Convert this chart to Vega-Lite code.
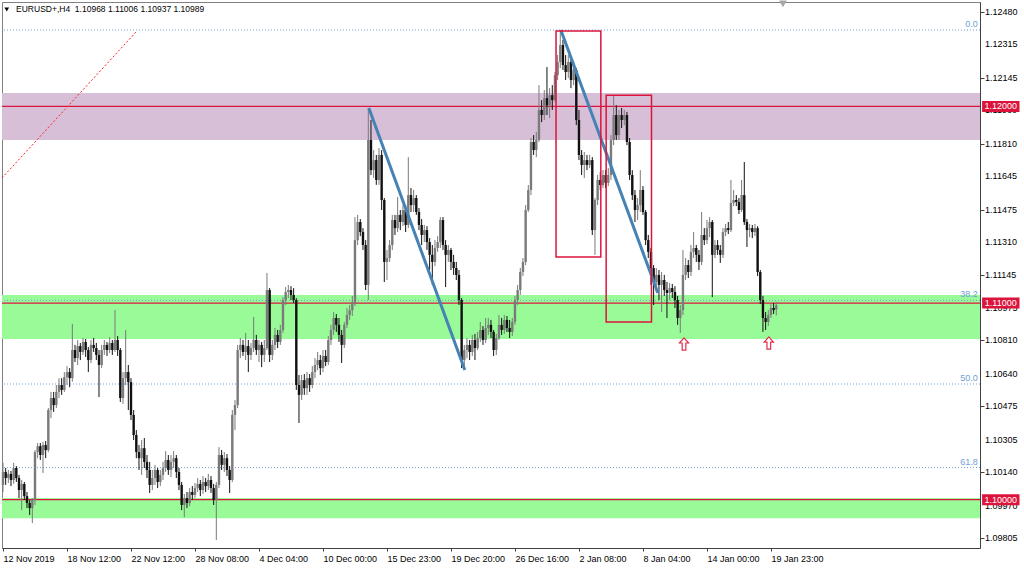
{
"$schema":"https://vega.github.io/schema/vega-lite/v6.json",
"width":978,"height":546,
"autosize":{"type":"none"},
"padding":{"left":2,"top":2,"right":44,"bottom":22},
"background":"#ffffff",
"config":{"view":{"stroke":"#808080","strokeWidth":1},"font":"Liberation Sans","axis":{"grid":false,"labelFlush":false}},
"datasets":{
"candles":[
{"i":0,"o":1.10075,"h":1.10187,"l":1.10039,"c":1.10141},
{"i":1,"o":1.10141,"h":1.10161,"l":1.10075,"c":1.10110},
{"i":2,"o":1.10110,"h":1.10151,"l":1.10085,"c":1.10131},
{"i":3,"o":1.10131,"h":1.10146,"l":1.10069,"c":1.10100},
{"i":4,"o":1.10100,"h":1.10187,"l":1.10080,"c":1.10161},
{"i":5,"o":1.10161,"h":1.10171,"l":1.10090,"c":1.10110},
{"i":6,"o":1.10110,"h":1.10126,"l":1.10008,"c":1.10049},
{"i":7,"o":1.10049,"h":1.10100,"l":1.09947,"c":1.10080},
{"i":8,"o":1.10080,"h":1.10090,"l":1.09998,"c":1.10018},
{"i":9,"o":1.10018,"h":1.10039,"l":1.09957,"c":1.09983},
{"i":10,"o":1.09983,"h":1.09998,"l":1.09922,"c":1.09957},
{"i":11,"o":1.09957,"h":1.10008,"l":1.09881,"c":1.09998},
{"i":12,"o":1.09998,"h":1.10252,"l":1.09973,"c":1.10242},
{"i":13,"o":1.10242,"h":1.10288,"l":1.10211,"c":1.10272},
{"i":14,"o":1.10272,"h":1.10288,"l":1.10202,"c":1.10227},
{"i":15,"o":1.10227,"h":1.10293,"l":1.10136,"c":1.10278},
{"i":16,"o":1.10278,"h":1.10298,"l":1.10211,"c":1.10252},
{"i":17,"o":1.10252,"h":1.10466,"l":1.10242,"c":1.10456},
{"i":18,"o":1.10456,"h":1.10548,"l":1.10415,"c":1.10517},
{"i":19,"o":1.10517,"h":1.10548,"l":1.10446,"c":1.10481},
{"i":20,"o":1.10481,"h":1.10583,"l":1.10466,"c":1.10548},
{"i":21,"o":1.10548,"h":1.10618,"l":1.10517,"c":1.10583},
{"i":22,"o":1.10583,"h":1.10618,"l":1.10533,"c":1.10558},
{"i":23,"o":1.10558,"h":1.10649,"l":1.10548,"c":1.10623},
{"i":24,"o":1.10623,"h":1.10679,"l":1.10583,"c":1.10649},
{"i":25,"o":1.10649,"h":1.10669,"l":1.10572,"c":1.10618},
{"i":26,"o":1.10618,"h":1.10894,"l":1.10600,"c":1.10761},
{"i":27,"o":1.10761,"h":1.10787,"l":1.10700,"c":1.10720},
{"i":28,"o":1.10720,"h":1.10812,"l":1.10685,"c":1.10781},
{"i":29,"o":1.10781,"h":1.10797,"l":1.10710,"c":1.10751},
{"i":30,"o":1.10751,"h":1.10822,"l":1.10736,"c":1.10802},
{"i":31,"o":1.10802,"h":1.10817,"l":1.10726,"c":1.10761},
{"i":32,"o":1.10761,"h":1.10776,"l":1.10649,"c":1.10710},
{"i":33,"o":1.10710,"h":1.10812,"l":1.10695,"c":1.10787},
{"i":34,"o":1.10787,"h":1.10822,"l":1.10751,"c":1.10771},
{"i":35,"o":1.10771,"h":1.10797,"l":1.10710,"c":1.10736},
{"i":36,"o":1.10736,"h":1.10761,"l":1.10522,"c":1.10685},
{"i":37,"o":1.10685,"h":1.10787,"l":1.10669,"c":1.10761},
{"i":38,"o":1.10761,"h":1.10812,"l":1.10736,"c":1.10787},
{"i":39,"o":1.10787,"h":1.10802,"l":1.10731,"c":1.10761},
{"i":40,"o":1.10761,"h":1.10827,"l":1.10746,"c":1.10797},
{"i":41,"o":1.10797,"h":1.10812,"l":1.10736,"c":1.10761},
{"i":42,"o":1.10761,"h":1.10964,"l":1.10751,"c":1.10812},
{"i":43,"o":1.10812,"h":1.10832,"l":1.10731,"c":1.10761},
{"i":44,"o":1.10761,"h":1.10771,"l":1.10497,"c":1.10517},
{"i":45,"o":1.10517,"h":1.10649,"l":1.10487,"c":1.10618},
{"i":46,"o":1.10618,"h":1.10863,"l":1.10583,"c":1.10649},
{"i":47,"o":1.10649,"h":1.10685,"l":1.10456,"c":1.10598},
{"i":48,"o":1.10598,"h":1.10618,"l":1.10405,"c":1.10431},
{"i":49,"o":1.10431,"h":1.10456,"l":1.10303,"c":1.10329},
{"i":50,"o":1.10329,"h":1.10354,"l":1.10211,"c":1.10242},
{"i":51,"o":1.10242,"h":1.10278,"l":1.10151,"c":1.10211},
{"i":52,"o":1.10211,"h":1.10303,"l":1.10126,"c":1.10262},
{"i":53,"o":1.10262,"h":1.10313,"l":1.10161,"c":1.10192},
{"i":54,"o":1.10192,"h":1.10227,"l":1.10110,"c":1.10151},
{"i":55,"o":1.10151,"h":1.10192,"l":1.10034,"c":1.10075},
{"i":56,"o":1.10075,"h":1.10151,"l":1.10049,"c":1.10110},
{"i":57,"o":1.10110,"h":1.10177,"l":1.10075,"c":1.10151},
{"i":58,"o":1.10151,"h":1.10161,"l":1.10059,"c":1.10090},
{"i":59,"o":1.10090,"h":1.10151,"l":1.10069,"c":1.10126},
{"i":60,"o":1.10126,"h":1.10192,"l":1.10100,"c":1.10161},
{"i":61,"o":1.10161,"h":1.10247,"l":1.10141,"c":1.10202},
{"i":62,"o":1.10202,"h":1.10227,"l":1.10126,"c":1.10151},
{"i":63,"o":1.10151,"h":1.10227,"l":1.10115,"c":1.10192},
{"i":64,"o":1.10192,"h":1.10247,"l":1.10161,"c":1.10211},
{"i":65,"o":1.10211,"h":1.10227,"l":1.10110,"c":1.10141},
{"i":66,"o":1.10141,"h":1.10161,"l":1.10049,"c":1.10075},
{"i":67,"o":1.10075,"h":1.10090,"l":1.09947,"c":1.09973},
{"i":68,"o":1.09973,"h":1.10029,"l":1.09911,"c":1.10008},
{"i":69,"o":1.10008,"h":1.10039,"l":1.09957,"c":1.09983},
{"i":70,"o":1.09983,"h":1.10059,"l":1.09967,"c":1.10039},
{"i":71,"o":1.10039,"h":1.10069,"l":1.09998,"c":1.10024},
{"i":72,"o":1.10024,"h":1.10085,"l":1.10008,"c":1.10059},
{"i":73,"o":1.10059,"h":1.10110,"l":1.10039,"c":1.10080},
{"i":74,"o":1.10080,"h":1.10100,"l":1.10018,"c":1.10049},
{"i":75,"o":1.10049,"h":1.10120,"l":1.10029,"c":1.10090},
{"i":76,"o":1.10090,"h":1.10110,"l":1.10039,"c":1.10069},
{"i":77,"o":1.10069,"h":1.10131,"l":1.10049,"c":1.10100},
{"i":78,"o":1.10100,"h":1.10120,"l":1.10034,"c":1.10059},
{"i":79,"o":1.10059,"h":1.10080,"l":1.09973,"c":1.09998},
{"i":80,"o":1.09998,"h":1.10090,"l":1.09795,"c":1.10075},
{"i":81,"o":1.10075,"h":1.10267,"l":1.10059,"c":1.10227},
{"i":82,"o":1.10227,"h":1.10252,"l":1.10151,"c":1.10177},
{"i":83,"o":1.10177,"h":1.10242,"l":1.10141,"c":1.10211},
{"i":84,"o":1.10211,"h":1.10232,"l":1.10120,"c":1.10151},
{"i":85,"o":1.10151,"h":1.10171,"l":1.10034,"c":1.10100},
{"i":86,"o":1.10100,"h":1.10456,"l":1.10090,"c":1.10431},
{"i":87,"o":1.10431,"h":1.10507,"l":1.10354,"c":1.10481},
{"i":88,"o":1.10481,"h":1.10787,"l":1.10466,"c":1.10761},
{"i":89,"o":1.10761,"h":1.10822,"l":1.10720,"c":1.10787},
{"i":90,"o":1.10787,"h":1.10812,"l":1.10731,"c":1.10751},
{"i":91,"o":1.10751,"h":1.10848,"l":1.10710,"c":1.10781},
{"i":92,"o":1.10781,"h":1.10812,"l":1.10649,"c":1.10736},
{"i":93,"o":1.10736,"h":1.10797,"l":1.10710,"c":1.10771},
{"i":94,"o":1.10771,"h":1.10929,"l":1.10751,"c":1.10812},
{"i":95,"o":1.10812,"h":1.10838,"l":1.10736,"c":1.10761},
{"i":96,"o":1.10761,"h":1.10812,"l":1.10700,"c":1.10787},
{"i":97,"o":1.10787,"h":1.10802,"l":1.10674,"c":1.10736},
{"i":98,"o":1.10736,"h":1.10812,"l":1.10700,"c":1.10771},
{"i":99,"o":1.10771,"h":1.11153,"l":1.10761,"c":1.11066},
{"i":100,"o":1.11066,"h":1.11076,"l":1.10700,"c":1.10736},
{"i":101,"o":1.10736,"h":1.10812,"l":1.10710,"c":1.10787},
{"i":102,"o":1.10787,"h":1.10873,"l":1.10761,"c":1.10838},
{"i":103,"o":1.10838,"h":1.10863,"l":1.10771,"c":1.10802},
{"i":104,"o":1.10802,"h":1.10889,"l":1.10787,"c":1.10863},
{"i":105,"o":1.10863,"h":1.11030,"l":1.10848,"c":1.11015},
{"i":106,"o":1.11015,"h":1.11081,"l":1.10990,"c":1.11056},
{"i":107,"o":1.11056,"h":1.11092,"l":1.11025,"c":1.11066},
{"i":108,"o":1.11066,"h":1.11086,"l":1.11015,"c":1.11041},
{"i":109,"o":1.11041,"h":1.11076,"l":1.11000,"c":1.11015},
{"i":110,"o":1.11015,"h":1.11025,"l":1.10558,"c":1.10583},
{"i":111,"o":1.10583,"h":1.10634,"l":1.10390,"c":1.10533},
{"i":112,"o":1.10533,"h":1.10634,"l":1.10507,"c":1.10608},
{"i":113,"o":1.10608,"h":1.10639,"l":1.10533,"c":1.10567},
{"i":114,"o":1.10567,"h":1.10649,"l":1.10533,"c":1.10618},
{"i":115,"o":1.10618,"h":1.10639,"l":1.10548,"c":1.10583},
{"i":116,"o":1.10583,"h":1.10679,"l":1.10567,"c":1.10649},
{"i":117,"o":1.10649,"h":1.10720,"l":1.10618,"c":1.10685},
{"i":118,"o":1.10685,"h":1.10751,"l":1.10659,"c":1.10710},
{"i":119,"o":1.10710,"h":1.10736,"l":1.10634,"c":1.10669},
{"i":120,"o":1.10669,"h":1.10761,"l":1.10649,"c":1.10731},
{"i":121,"o":1.10731,"h":1.10761,"l":1.10679,"c":1.10700},
{"i":122,"o":1.10700,"h":1.10832,"l":1.10685,"c":1.10812},
{"i":123,"o":1.10812,"h":1.10889,"l":1.10787,"c":1.10863},
{"i":124,"o":1.10863,"h":1.10954,"l":1.10838,"c":1.10924},
{"i":125,"o":1.10924,"h":1.10944,"l":1.10853,"c":1.10889},
{"i":126,"o":1.10889,"h":1.10924,"l":1.10802,"c":1.10838},
{"i":127,"o":1.10838,"h":1.10863,"l":1.10695,"c":1.10787},
{"i":128,"o":1.10787,"h":1.10904,"l":1.10771,"c":1.10889},
{"i":129,"o":1.10889,"h":1.10975,"l":1.10873,"c":1.10939},
{"i":130,"o":1.10939,"h":1.10990,"l":1.10914,"c":1.10964},
{"i":131,"o":1.10964,"h":1.11036,"l":1.10934,"c":1.11005},
{"i":132,"o":1.11005,"h":1.11437,"l":1.10985,"c":1.11320},
{"i":133,"o":1.11320,"h":1.11448,"l":1.11295,"c":1.11412},
{"i":134,"o":1.11412,"h":1.11427,"l":1.11340,"c":1.11361},
{"i":135,"o":1.11361,"h":1.11381,"l":1.11270,"c":1.11295},
{"i":136,"o":1.11295,"h":1.11320,"l":1.11066,"c":1.11092},
{"i":137,"o":1.11092,"h":1.11992,"l":1.11015,"c":1.11829},
{"i":138,"o":1.11829,"h":1.11931,"l":1.11651,"c":1.11676},
{"i":139,"o":1.11676,"h":1.11778,"l":1.11636,"c":1.11727},
{"i":140,"o":1.11727,"h":1.11753,"l":1.11601,"c":1.11626},
{"i":141,"o":1.11626,"h":1.11788,"l":1.11601,"c":1.11753},
{"i":142,"o":1.11753,"h":1.11778,"l":1.11473,"c":1.11524},
{"i":143,"o":1.11524,"h":1.11534,"l":1.11107,"c":1.11209},
{"i":144,"o":1.11209,"h":1.11270,"l":1.11117,"c":1.11229},
{"i":145,"o":1.11229,"h":1.11320,"l":1.11209,"c":1.11295},
{"i":146,"o":1.11295,"h":1.11448,"l":1.11270,"c":1.11422},
{"i":147,"o":1.11422,"h":1.11448,"l":1.11346,"c":1.11381},
{"i":148,"o":1.11381,"h":1.11539,"l":1.11361,"c":1.11448},
{"i":149,"o":1.11448,"h":1.11473,"l":1.11371,"c":1.11412},
{"i":150,"o":1.11412,"h":1.11498,"l":1.11391,"c":1.11473},
{"i":151,"o":1.11473,"h":1.11498,"l":1.11361,"c":1.11397},
{"i":152,"o":1.11397,"h":1.11742,"l":1.11381,"c":1.11549},
{"i":153,"o":1.11549,"h":1.11585,"l":1.11463,"c":1.11498},
{"i":154,"o":1.11498,"h":1.11575,"l":1.11463,"c":1.11534},
{"i":155,"o":1.11534,"h":1.11549,"l":1.11448,"c":1.11463},
{"i":156,"o":1.11463,"h":1.11483,"l":1.11371,"c":1.11397},
{"i":157,"o":1.11397,"h":1.11427,"l":1.11295,"c":1.11346},
{"i":158,"o":1.11346,"h":1.11397,"l":1.11310,"c":1.11371},
{"i":159,"o":1.11371,"h":1.11391,"l":1.11270,"c":1.11310},
{"i":160,"o":1.11310,"h":1.11330,"l":1.11168,"c":1.11245},
{"i":161,"o":1.11245,"h":1.11295,"l":1.11092,"c":1.11209},
{"i":162,"o":1.11209,"h":1.11320,"l":1.11188,"c":1.11280},
{"i":163,"o":1.11280,"h":1.11340,"l":1.11260,"c":1.11310},
{"i":164,"o":1.11310,"h":1.11437,"l":1.11280,"c":1.11422},
{"i":165,"o":1.11422,"h":1.11437,"l":1.11270,"c":1.11295},
{"i":166,"o":1.11295,"h":1.11320,"l":1.11081,"c":1.11245},
{"i":167,"o":1.11245,"h":1.11295,"l":1.11209,"c":1.11270},
{"i":168,"o":1.11270,"h":1.11280,"l":1.11168,"c":1.11209},
{"i":169,"o":1.11209,"h":1.11245,"l":1.11143,"c":1.11178},
{"i":170,"o":1.11178,"h":1.11209,"l":1.11117,"c":1.11143},
{"i":171,"o":1.11143,"h":1.11168,"l":1.10990,"c":1.11015},
{"i":172,"o":1.11015,"h":1.11025,"l":1.10669,"c":1.10710},
{"i":173,"o":1.10710,"h":1.10787,"l":1.10659,"c":1.10761},
{"i":174,"o":1.10761,"h":1.10822,"l":1.10720,"c":1.10787},
{"i":175,"o":1.10787,"h":1.10812,"l":1.10710,"c":1.10751},
{"i":176,"o":1.10751,"h":1.10838,"l":1.10731,"c":1.10812},
{"i":177,"o":1.10812,"h":1.10843,"l":1.10710,"c":1.10771},
{"i":178,"o":1.10771,"h":1.10853,"l":1.10761,"c":1.10822},
{"i":179,"o":1.10822,"h":1.10904,"l":1.10802,"c":1.10863},
{"i":180,"o":1.10863,"h":1.10883,"l":1.10787,"c":1.10812},
{"i":181,"o":1.10812,"h":1.10924,"l":1.10797,"c":1.10873},
{"i":182,"o":1.10873,"h":1.10924,"l":1.10838,"c":1.10889},
{"i":183,"o":1.10889,"h":1.10914,"l":1.10822,"c":1.10853},
{"i":184,"o":1.10853,"h":1.10863,"l":1.10731,"c":1.10761},
{"i":185,"o":1.10761,"h":1.10843,"l":1.10736,"c":1.10822},
{"i":186,"o":1.10822,"h":1.10939,"l":1.10812,"c":1.10889},
{"i":187,"o":1.10889,"h":1.10924,"l":1.10838,"c":1.10863},
{"i":188,"o":1.10863,"h":1.10939,"l":1.10843,"c":1.10914},
{"i":189,"o":1.10914,"h":1.10934,"l":1.10853,"c":1.10873},
{"i":190,"o":1.10873,"h":1.10914,"l":1.10822,"c":1.10853},
{"i":191,"o":1.10853,"h":1.10924,"l":1.10832,"c":1.10904},
{"i":192,"o":1.10904,"h":1.11036,"l":1.10889,"c":1.11015},
{"i":193,"o":1.11015,"h":1.11092,"l":1.10990,"c":1.11066},
{"i":194,"o":1.11066,"h":1.11178,"l":1.11041,"c":1.11158},
{"i":195,"o":1.11158,"h":1.11229,"l":1.11137,"c":1.11209},
{"i":196,"o":1.11209,"h":1.11498,"l":1.11193,"c":1.11473},
{"i":197,"o":1.11473,"h":1.11600,"l":1.11463,"c":1.11575},
{"i":198,"o":1.11575,"h":1.11839,"l":1.11549,"c":1.11819},
{"i":199,"o":1.11819,"h":1.11854,"l":1.11753,"c":1.11778},
{"i":200,"o":1.11778,"h":1.11870,"l":1.11742,"c":1.11829},
{"i":201,"o":1.11829,"h":1.12108,"l":1.11819,"c":1.11982},
{"i":202,"o":1.11982,"h":1.12032,"l":1.11920,"c":1.11956},
{"i":203,"o":1.11956,"h":1.12083,"l":1.11931,"c":1.12042},
{"i":204,"o":1.12042,"h":1.12200,"l":1.11956,"c":1.12006},
{"i":205,"o":1.12006,"h":1.12093,"l":1.11941,"c":1.12057},
{"i":206,"o":1.12057,"h":1.12108,"l":1.11982,"c":1.12032},
{"i":207,"o":1.12032,"h":1.12175,"l":1.12022,"c":1.12159},
{"i":208,"o":1.12159,"h":1.12261,"l":1.12134,"c":1.12226},
{"i":209,"o":1.12226,"h":1.12388,"l":1.12195,"c":1.12312},
{"i":210,"o":1.12312,"h":1.12338,"l":1.12185,"c":1.12210},
{"i":211,"o":1.12210,"h":1.12261,"l":1.12134,"c":1.12175},
{"i":212,"o":1.12175,"h":1.12261,"l":1.12144,"c":1.12226},
{"i":213,"o":1.12226,"h":1.12246,"l":1.12093,"c":1.12134},
{"i":214,"o":1.12134,"h":1.12226,"l":1.12108,"c":1.12185},
{"i":215,"o":1.12185,"h":1.12195,"l":1.11905,"c":1.11931},
{"i":216,"o":1.11931,"h":1.11982,"l":1.11727,"c":1.11753},
{"i":217,"o":1.11753,"h":1.11778,"l":1.11651,"c":1.11702},
{"i":218,"o":1.11702,"h":1.11768,"l":1.11636,"c":1.11727},
{"i":219,"o":1.11727,"h":1.11753,"l":1.11676,"c":1.11702},
{"i":220,"o":1.11702,"h":1.11753,"l":1.11686,"c":1.11727},
{"i":221,"o":1.11727,"h":1.11742,"l":1.11346,"c":1.11371},
{"i":222,"o":1.11371,"h":1.11534,"l":1.11245,"c":1.11524},
{"i":223,"o":1.11524,"h":1.11651,"l":1.11498,"c":1.11626},
{"i":224,"o":1.11626,"h":1.11666,"l":1.11575,"c":1.11600},
{"i":225,"o":1.11600,"h":1.11676,"l":1.11585,"c":1.11651},
{"i":226,"o":1.11651,"h":1.11676,"l":1.11585,"c":1.11611},
{"i":227,"o":1.11611,"h":1.11686,"l":1.11595,"c":1.11651},
{"i":228,"o":1.11651,"h":1.11854,"l":1.11626,"c":1.11829},
{"i":229,"o":1.11829,"h":1.12057,"l":1.11803,"c":1.11956},
{"i":230,"o":1.11956,"h":1.12006,"l":1.11829,"c":1.11854},
{"i":231,"o":1.11854,"h":1.11982,"l":1.11829,"c":1.11956},
{"i":232,"o":1.11956,"h":1.11992,"l":1.11890,"c":1.11931},
{"i":233,"o":1.11931,"h":1.11982,"l":1.11905,"c":1.11956},
{"i":234,"o":1.11956,"h":1.11972,"l":1.11803,"c":1.11819},
{"i":235,"o":1.11819,"h":1.11839,"l":1.11626,"c":1.11651},
{"i":236,"o":1.11651,"h":1.11676,"l":1.11524,"c":1.11549},
{"i":237,"o":1.11549,"h":1.11575,"l":1.11412,"c":1.11473},
{"i":238,"o":1.11473,"h":1.11534,"l":1.11422,"c":1.11498},
{"i":239,"o":1.11498,"h":1.11676,"l":1.11463,"c":1.11575},
{"i":240,"o":1.11575,"h":1.11595,"l":1.11448,"c":1.11463},
{"i":241,"o":1.11463,"h":1.11473,"l":1.11295,"c":1.11320},
{"i":242,"o":1.11320,"h":1.11346,"l":1.11229,"c":1.11260},
{"i":243,"o":1.11260,"h":1.11280,"l":1.11092,"c":1.11178},
{"i":244,"o":1.11178,"h":1.11193,"l":1.10990,"c":1.11107},
{"i":245,"o":1.11107,"h":1.11178,"l":1.11056,"c":1.11143},
{"i":246,"o":1.11143,"h":1.11168,"l":1.11015,"c":1.11092},
{"i":247,"o":1.11092,"h":1.11158,"l":1.10954,"c":1.11117},
{"i":248,"o":1.11117,"h":1.11143,"l":1.11036,"c":1.11066},
{"i":249,"o":1.11066,"h":1.11107,"l":1.10924,"c":1.11051},
{"i":250,"o":1.11051,"h":1.11102,"l":1.11015,"c":1.11076},
{"i":251,"o":1.11076,"h":1.11097,"l":1.11025,"c":1.11056},
{"i":252,"o":1.11056,"h":1.11086,"l":1.10975,"c":1.11015},
{"i":253,"o":1.11015,"h":1.11036,"l":1.10889,"c":1.10924},
{"i":254,"o":1.10924,"h":1.10990,"l":1.10848,"c":1.10964},
{"i":255,"o":1.10964,"h":1.11270,"l":1.10939,"c":1.11143},
{"i":256,"o":1.11143,"h":1.11229,"l":1.11117,"c":1.11193},
{"i":257,"o":1.11193,"h":1.11219,"l":1.11127,"c":1.11158},
{"i":258,"o":1.11158,"h":1.11295,"l":1.11137,"c":1.11260},
{"i":259,"o":1.11260,"h":1.11361,"l":1.11229,"c":1.11280},
{"i":260,"o":1.11280,"h":1.11295,"l":1.11209,"c":1.11245},
{"i":261,"o":1.11245,"h":1.11270,"l":1.11168,"c":1.11209},
{"i":262,"o":1.11209,"h":1.11463,"l":1.11193,"c":1.11346},
{"i":263,"o":1.11346,"h":1.11381,"l":1.11295,"c":1.11320},
{"i":264,"o":1.11320,"h":1.11422,"l":1.11300,"c":1.11381},
{"i":265,"o":1.11381,"h":1.11437,"l":1.11335,"c":1.11412},
{"i":266,"o":1.11412,"h":1.11422,"l":1.11030,"c":1.11245},
{"i":267,"o":1.11245,"h":1.11320,"l":1.11229,"c":1.11295},
{"i":268,"o":1.11295,"h":1.11320,"l":1.11245,"c":1.11270},
{"i":269,"o":1.11270,"h":1.11295,"l":1.11204,"c":1.11245},
{"i":270,"o":1.11245,"h":1.11381,"l":1.11229,"c":1.11361},
{"i":271,"o":1.11361,"h":1.11402,"l":1.11340,"c":1.11381},
{"i":272,"o":1.11381,"h":1.11412,"l":1.11351,"c":1.11371},
{"i":273,"o":1.11371,"h":1.11626,"l":1.11361,"c":1.11509},
{"i":274,"o":1.11509,"h":1.11575,"l":1.11493,"c":1.11524},
{"i":275,"o":1.11524,"h":1.11549,"l":1.11493,"c":1.11514},
{"i":276,"o":1.11514,"h":1.11534,"l":1.11453,"c":1.11473},
{"i":277,"o":1.11473,"h":1.11626,"l":1.11463,"c":1.11549},
{"i":278,"o":1.11549,"h":1.11717,"l":1.11397,"c":1.11412},
{"i":279,"o":1.11412,"h":1.11427,"l":1.11285,"c":1.11371},
{"i":280,"o":1.11371,"h":1.11402,"l":1.11335,"c":1.11381},
{"i":281,"o":1.11381,"h":1.11397,"l":1.11330,"c":1.11361},
{"i":282,"o":1.11361,"h":1.11402,"l":1.11340,"c":1.11381},
{"i":283,"o":1.11381,"h":1.11391,"l":1.11137,"c":1.11158},
{"i":284,"o":1.11158,"h":1.11168,"l":1.10995,"c":1.11015},
{"i":285,"o":1.11015,"h":1.11036,"l":1.10853,"c":1.10924},
{"i":286,"o":1.10924,"h":1.10954,"l":1.10863,"c":1.10904},
{"i":287,"o":1.10904,"h":1.10964,"l":1.10883,"c":1.10939},
{"i":288,"o":1.10939,"h":1.10995,"l":1.10924,"c":1.10975},
{"i":289,"o":1.10975,"h":1.11000,"l":1.10944,"c":1.10964},
{"i":290,"o":1.10968,"h":1.11006,"l":1.10937,"c":1.10989}
],
"bands":[
{"kind":"resistance","p":1.12068,"p2":1.11829},
{"kind":"support","p":1.11041,"p2":1.10817},
{"kind":"support","p":1.10008,"p2":1.09906}
],
"levels":[{"p":1.12},{"p":1.11},{"p":1.1}],
"fib":[
{"p":1.123885,"label":"0.0"},
{"p":1.110131,"label":"38.2"},
{"p":1.105882,"label":"50.0"},
{"p":1.101633,"label":"61.8"}
],
"fibtrend":[{"i":-0.375,"p":1.11636},{"i":50.2,"p":1.12383}],
"trend":[
{"seg":"a","i":137.2,"p":1.119918},{"seg":"a","i":173.2,"p":1.106594},
{"seg":"b","i":209.2,"p":1.123885},{"seg":"b","i":245.6,"p":1.11051}
],
"boxes":[
{"i":207.4,"i2":224.2,"p":1.12383,"p2":1.11234},
{"i":226.2,"i2":243.2,"p":1.12057,"p2":1.10904}
],
"arrows":[{"i":255.4,"p":1.10792},{"i":287.2,"p":1.10797}],
"yticks":[{"p":1.1248},{"p":1.12315},{"p":1.12145},{"p":1.1198},{"p":1.1181},{"p":1.11645},{"p":1.11475},{"p":1.1131},{"p":1.11145},{"p":1.10975},{"p":1.1081},{"p":1.1064},{"p":1.10475},{"p":1.10305},{"p":1.1014},{"p":1.0997},{"p":1.09805}],
"pricetags":[{"p":1.12,"label":"1.12000"},{"p":1.11,"label":"1.11000"},{"p":1.1,"label":"1.10000"}],
"header":[{"i":4.9,"p":1.12493,"label":"EURUSD+,H4\u00a0 1.10968 1.11006 1.10937 1.10989"}],
"headermark":[{"i":1.4,"p":1.12493}],
"shift":[{"i":292.5,"p":1.12521}]
},
"layer":[
{"data":{"name":"candles"},"mark":{"type":"point","opacity":0},
 "encoding":{
  "x":{"field":"i","type":"quantitative","scale":{"domain":[-0.375,366.4],"nice":false,"zero":false},
   "axis":{"values":[0,24,48,72,96,120,144,168,192,216,240,264,288],
    "labelExpr":"['12 Nov 2019','18 Nov 12:00','22 Nov 12:00','28 Nov 08:00','4 Dec 04:00','10 Dec 00:00','15 Dec 23:00','19 Dec 20:00','26 Dec 16:00','2 Jan 08:00','8 Jan 04:00','14 Jan 00:00','19 Jan 23:00'][round(datum.value/24)]",
    "orient":"bottom","labelAlign":"left","labelBaseline":"top","labelPadding":3,"tickSize":3,"labelFontSize":9,"labelFont":"Liberation Sans","labelColor":"#000","domainColor":"#404040","tickColor":"#404040","grid":false,"title":null,"labelFlush":false,"labelOverlap":false}},
  "y":{"field":"c","type":"quantitative","scale":{"domain":[1.097542,1.125309],"nice":false,"zero":false},
   "axis":{"orient":"right","values":[1.1248,1.12315,1.12145,1.1198,1.1181,1.11645,1.11475,1.1131,1.11145,1.10975,1.1081,1.1064,1.10475,1.10305,1.1014,1.0997,1.09805],
    "labels":false,"tickSize":4,"domainColor":"#404040","tickColor":"#404040","grid":false,"title":null}}}},
{"data":{"name":"bands"},"mark":{"type":"rect"},
 "encoding":{
  "y":{"field":"p","type":"quantitative","scale":{"domain":[1.097542,1.125309],"nice":false,"zero":false}},
  "y2":{"field":"p2"},
  "fill":{"field":"kind","type":"nominal","scale":{"domain":["resistance","support"],"range":["#D8BFD8","#98FB98"]},"legend":null}}},
{"data":{"name":"fib"},"mark":{"type":"rule","stroke":"#6f9fd6","strokeWidth":1,"strokeDash":[1,2]},
 "encoding":{"y":{"field":"p","type":"quantitative","scale":{"domain":[1.097542,1.125309],"nice":false,"zero":false}}}},
{"data":{"name":"levels"},"mark":{"type":"rule","stroke":"#dc143c","strokeWidth":1.3},
 "encoding":{"y":{"field":"p","type":"quantitative","scale":{"domain":[1.097542,1.125309],"nice":false,"zero":false}}}},
{"data":{"name":"fib"},"mark":{"type":"text","align":"right","baseline":"bottom","dy":-1,"fontSize":9,"color":"#6f9fd6","font":"Liberation Sans"},
 "encoding":{
  "x":{"datum":365.6,"type":"quantitative","scale":{"domain":[-0.375,366.4],"nice":false,"zero":false}},
  "y":{"field":"p","type":"quantitative","scale":{"domain":[1.097542,1.125309],"nice":false,"zero":false}},
  "text":{"field":"label"}}},
{"data":{"name":"fibtrend"},"mark":{"type":"line","stroke":"#ff2020","strokeWidth":1,"strokeDash":[2,2]},
 "encoding":{
  "x":{"field":"i","type":"quantitative","scale":{"domain":[-0.375,366.4],"nice":false,"zero":false}},
  "y":{"field":"p","type":"quantitative","scale":{"domain":[1.097542,1.125309],"nice":false,"zero":false}}}},
{"data":{"name":"candles"},"mark":{"type":"rule","strokeWidth":1},
 "encoding":{
  "x":{"field":"i","type":"quantitative","scale":{"domain":[-0.375,366.4],"nice":false,"zero":false}},
  "y":{"field":"l","type":"quantitative","scale":{"domain":[1.097542,1.125309],"nice":false,"zero":false}},
  "y2":{"field":"h"},
  "stroke":{"condition":{"test":"datum.c >= datum.o","value":"#7a7a7a"},"value":"#111111"}}},
{"data":{"name":"candles"},"mark":{"type":"rule","strokeWidth":2.4},
 "encoding":{
  "x":{"field":"i","type":"quantitative","scale":{"domain":[-0.375,366.4],"nice":false,"zero":false}},
  "y":{"field":"o","type":"quantitative","scale":{"domain":[1.097542,1.125309],"nice":false,"zero":false}},
  "y2":{"field":"c"},
  "stroke":{"condition":{"test":"datum.c >= datum.o","value":"#7a7a7a"},"value":"#111111"}}},
{"data":{"name":"trend"},"mark":{"type":"line","stroke":"#4682B4","strokeWidth":3},
 "encoding":{
  "x":{"field":"i","type":"quantitative","scale":{"domain":[-0.375,366.4],"nice":false,"zero":false}},
  "y":{"field":"p","type":"quantitative","scale":{"domain":[1.097542,1.125309],"nice":false,"zero":false}},
  "detail":{"field":"seg","type":"nominal"}}},
{"data":{"name":"boxes"},"mark":{"type":"rect","fill":"transparent","stroke":"#dc143c","strokeWidth":1.5},
 "encoding":{
  "x":{"field":"i","type":"quantitative","scale":{"domain":[-0.375,366.4],"nice":false,"zero":false}},
  "x2":{"field":"i2"},
  "y":{"field":"p","type":"quantitative","scale":{"domain":[1.097542,1.125309],"nice":false,"zero":false}},
  "y2":{"field":"p2"}}},
{"data":{"name":"arrows"},"mark":{"type":"point","shape":"M0,-1L0.75,-0.15L0.3,-0.15L0.3,1L-0.3,1L-0.3,-0.15L-0.75,-0.15Z","size":150,"filled":true,"fill":"#ffffff","stroke":"#e0304a","strokeWidth":1.2,"opacity":1},
 "encoding":{
  "x":{"field":"i","type":"quantitative","scale":{"domain":[-0.375,366.4],"nice":false,"zero":false}},
  "y":{"field":"p","type":"quantitative","scale":{"domain":[1.097542,1.125309],"nice":false,"zero":false}}}},
{"data":{"name":"headermark"},"mark":{"type":"point","shape":"triangle-down","size":22,"filled":true,"color":"#000","opacity":1},
 "encoding":{
  "x":{"field":"i","type":"quantitative","scale":{"domain":[-0.375,366.4],"nice":false,"zero":false}},
  "y":{"field":"p","type":"quantitative","scale":{"domain":[1.097542,1.125309],"nice":false,"zero":false}}}},
{"data":{"name":"header"},"mark":{"type":"text","align":"left","baseline":"middle","fontSize":8.5,"font":"Liberation Sans","color":"#000"},
 "encoding":{
  "x":{"field":"i","type":"quantitative","scale":{"domain":[-0.375,366.4],"nice":false,"zero":false}},
  "y":{"field":"p","type":"quantitative","scale":{"domain":[1.097542,1.125309],"nice":false,"zero":false}},
  "text":{"field":"label"}}},
{"data":{"name":"shift"},"mark":{"type":"point","shape":"triangle-down","size":60,"filled":true,"color":"#a8a8a8","opacity":1},
 "encoding":{
  "x":{"field":"i","type":"quantitative","scale":{"domain":[-0.375,366.4],"nice":false,"zero":false}},
  "y":{"field":"p","type":"quantitative","scale":{"domain":[1.097542,1.125309],"nice":false,"zero":false}}}},
{"data":{"name":"yticks"},"mark":{"type":"text","align":"left","baseline":"middle","fontSize":9,"font":"Liberation Sans","color":"#000"},
 "encoding":{
  "x":{"datum":368.3,"type":"quantitative","scale":{"domain":[-0.375,366.4],"nice":false,"zero":false}},
  "y":{"field":"p","type":"quantitative","scale":{"domain":[1.097542,1.125309],"nice":false,"zero":false}},
  "text":{"field":"p","type":"quantitative","format":".5f"}}},
{"data":{"name":"pricetags"},"mark":{"type":"point","shape":"M-1.7,-0.5L1.7,-0.5L1.7,0.5L-1.7,0.5Z","size":484,"filled":true,"color":"#dc143c","opacity":1},
 "encoding":{
  "x":{"datum":374.2,"type":"quantitative","scale":{"domain":[-0.375,366.4],"nice":false,"zero":false}},
  "y":{"field":"p","type":"quantitative","scale":{"domain":[1.097542,1.125309],"nice":false,"zero":false}}}},
{"data":{"name":"pricetags"},"mark":{"type":"text","align":"center","baseline":"middle","fontSize":9,"font":"Liberation Sans","color":"#ffffff"},
 "encoding":{
  "x":{"datum":374.2,"type":"quantitative","scale":{"domain":[-0.375,366.4],"nice":false,"zero":false}},
  "y":{"field":"p","type":"quantitative","scale":{"domain":[1.097542,1.125309],"nice":false,"zero":false}},
  "text":{"field":"label"}}}
]
}
